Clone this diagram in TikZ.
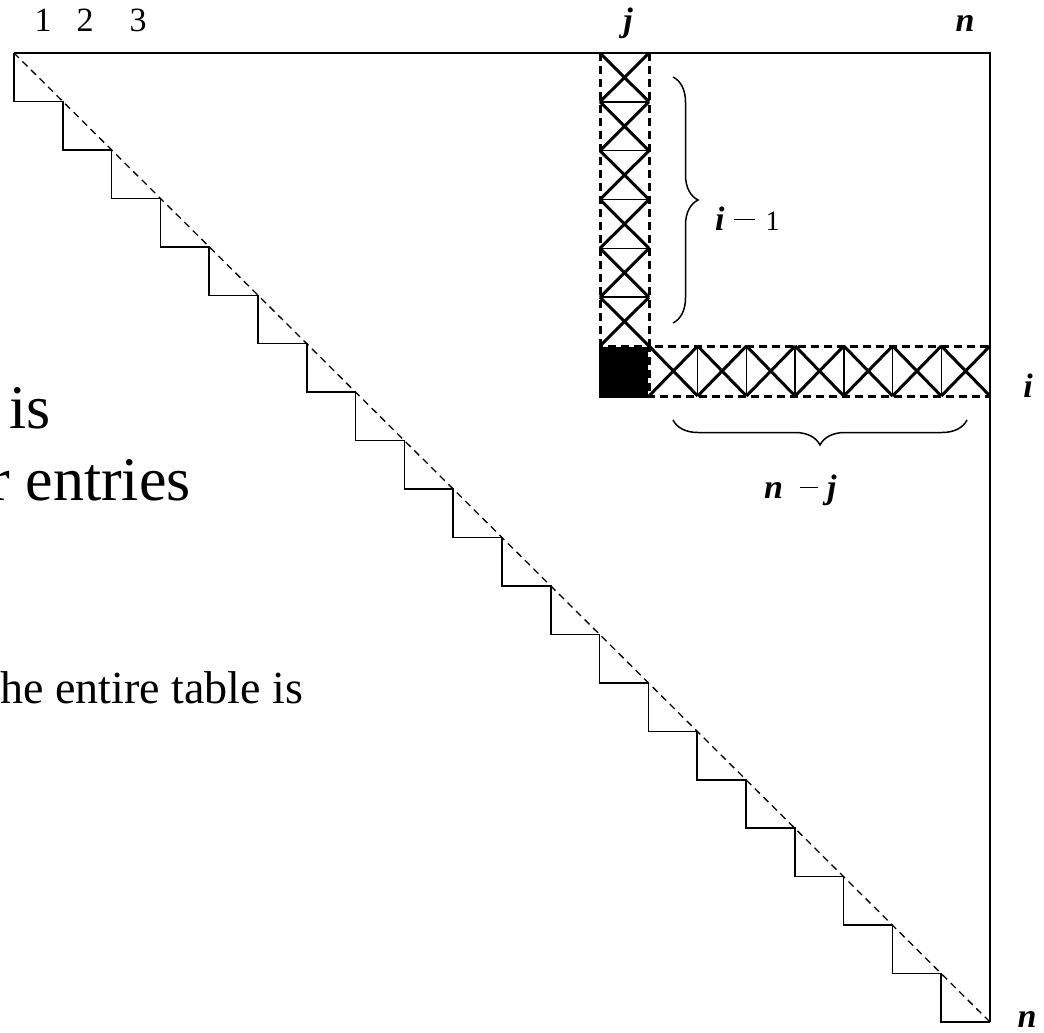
\documentclass[tikz,border=0pt]{standalone}
\usepackage{fontspec}
\setmainfont{Liberation Serif}
\usetikzlibrary{decorations.pathreplacing}
\newcommand{\bfit}{\bfseries\itshape}
\newcommand{\mminus}[1]{\rule[10pt]{#1}{1.4pt}}
\begin{document}
\begin{tikzpicture}[x=1pt,y=-1pt,
  frame/.style={line width=2pt},
  stair/.style={line width=1.5pt},
  diag/.style={line width=1.3pt, dash pattern=on 7pt off 5pt},
  hatch/.style={line width=3pt},
  sep/.style={line width=1.5pt},
  dbox/.style={line width=3pt, dash pattern=on 8pt off 5pt},
  brace/.style={decorate, decoration={brace, amplitude=25pt}, line width=1.5pt},
  lbl/.style={inner sep=0pt, font=\fontsize{34}{34}\selectfont},
  big/.style={inner sep=0pt, font=\fontsize{62}{62}\selectfont},
  mid/.style={inner sep=0pt, font=\fontsize{46}{46}\selectfont}]
\useasboundingbox (0,0) rectangle (1044,1033);
\clip (0,0) rectangle (1044,1033);
% corners
\coordinate (TL) at (14,53);
\coordinate (TR) at (990,53);
\coordinate (BR) at (990,1022);
% left text fragments
\node[big, anchor=base west] (t1) at (9,428) {is};
\node[big, anchor=base east] (t2) at (191,500) {r entries};
\node[mid, anchor=base west] (t3) at (0,703) {he entire table is};
% staircase
\draw[stair] (TL) foreach \k in {1,...,20} { -- ({14+(\k-1)*48.8},{53+\k*48.45}) -- ({14+\k*48.8},{53+\k*48.45}) };
\draw[diag] (TL) -- (BR);
\draw[frame] (TL) -- (TR) -- (BR);
% column j hatch
\foreach \r in {0,...,5}
  \draw[hatch] (600,{53+\r*48.83}) -- (649,{53+(\r+1)*48.83})
               (649,{53+\r*48.83}) -- (600,{53+(\r+1)*48.83});
\foreach \r in {1,...,5}
  \draw[sep] (600,{53+\r*48.83}) -- (649,{53+\r*48.83});
% row i hatch
\foreach \c in {0,...,6}
  \draw[hatch] ({649+\c*48.71},346) -- ({649+(\c+1)*48.71},396)
               ({649+\c*48.71},396) -- ({649+(\c+1)*48.71},346);
\foreach \c in {1,...,6}
  \draw[sep] ({649+\c*48.71},346) -- ({649+\c*48.71},396);
% black cell
\fill (601,347) rectangle (648,395);
\draw[dbox] (600,346) rectangle (649,396);
% dashed outlines
\draw[dbox] (600,53) -- (600,396) -- (990,396);
\draw[dbox] (649,53) -- (649,346) -- (990,346);
% braces
\draw[brace] (673,77) -- (673,323);
\draw[brace] (967,420) -- (673,420);
% labels
\node[lbl, anchor=base] (c1) at (43,32) {1};
\node[lbl, anchor=base] (c2) at (85,32) {2};
\node[lbl, anchor=base] (c3) at (138,32) {3};
\node[lbl, anchor=base] (cj) at (628,32) {\bfit j};
\node[lbl, anchor=base] (cn) at (965,32) {\bfit n};
\node[lbl, anchor=base] (ri) at (1028,397) {\bfit i};
\node[lbl, anchor=base] (rn) at (1027,1027) {\bfit n};
\node[lbl, anchor=base west] (im1) at (715,230) {{\bfit i}\kern9pt\mminus{21pt}\kern11pt{\fontsize{28}{28}\selectfont 1}};
\node[lbl, anchor=base west] (nmj) at (764,498) {{\bfit n}\kern17pt\mminus{18pt}\kern9pt{\bfit j}};
\end{tikzpicture}
\end{document}
